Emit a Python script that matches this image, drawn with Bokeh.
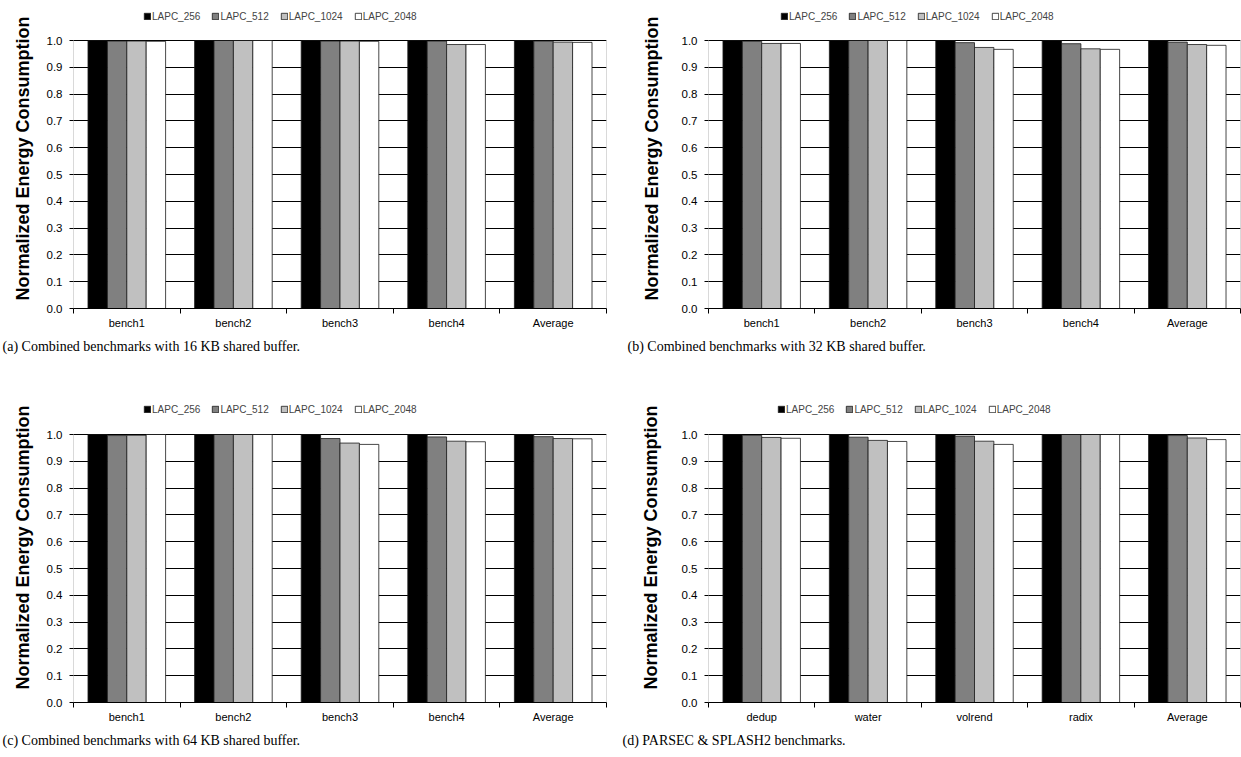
from bokeh.plotting import figure
from bokeh.models import (Range1d, FixedTicker, Legend, LegendItem, Title,
                          BoxAnnotation, ColumnDataSource, NumeralTickFormatter)
from bokeh.transform import dodge
from bokeh.layouts import gridplot
from bokeh.embed import file_html
from bokeh.resources import INLINE

# ---------------- data ----------------
series = ["LAPC_256", "LAPC_512", "LAPC_1024", "LAPC_2048"]
colors = ["#000000", "#808080", "#C0C0C0", "#FFFFFF"]

cats_combined = ["bench1", "bench2", "bench3", "bench4", "Average"]
cats_parsec = ["dedup", "water", "volrend", "radix", "Average"]

y_ticks = [0.0, 0.1, 0.2, 0.3, 0.4, 0.5, 0.6, 0.7, 0.8, 0.9, 1.0]
y_title = "Normalized Energy Consumption"

a_256 = [1.000, 1.000, 1.000, 1.000, 1.000]
a_512 = [0.998, 1.000, 0.998, 0.998, 0.998]
a_1024 = [0.998, 1.000, 0.998, 0.985, 0.994]
a_2048 = [0.997, 1.000, 0.997, 0.985, 0.993]

b_256 = [1.000, 1.000, 1.000, 1.000, 1.000]
b_512 = [0.997, 1.000, 0.992, 0.988, 0.994]
b_1024 = [0.989, 1.000, 0.974, 0.969, 0.985]
b_2048 = [0.989, 1.000, 0.967, 0.967, 0.982]

c_256 = [1.000, 1.000, 1.000, 1.000, 1.000]
c_512 = [0.996, 1.000, 0.985, 0.991, 0.992]
c_1024 = [0.997, 1.000, 0.968, 0.975, 0.985]
c_2048 = [1.000, 1.000, 0.963, 0.973, 0.984]

d_256 = [1.000, 1.000, 1.000, 1.000, 1.000]
d_512 = [0.997, 0.990, 0.994, 1.000, 0.996]
d_1024 = [0.989, 0.978, 0.975, 1.000, 0.987]
d_2048 = [0.986, 0.974, 0.963, 1.000, 0.981]

captions = [
    "(a) Combined benchmarks with 16 KB shared buffer.",
    "(b) Combined benchmarks with 32 KB shared buffer.",
    "(c) Combined benchmarks with 64 KB shared buffer.",
    "(d) PARSEC & SPLASH2 benchmarks.",
]

SANS = "Liberation Sans"
SERIF = "Liberation Serif"

PLOT_H = 268  # pixel height of the 0..1 value area


def make_panel(cats, vals, caption, width, height, left, right, bottom,
               title_standoff, title_offset, legend_dx, legend_cy, cap_x):
    centers = [i + 0.5 for i in range(len(cats))]
    data = dict(x=centers)
    keys = []
    for s, v in zip(series, vals):
        k = "v" + s.split("_")[1]
        data[k] = v
        keys.append(k)
    src = ColumnDataSource(data)

    frame_h = height - bottom            # frame starts at the very top
    y_end = y_ticks[-1] * frame_h / PLOT_H  # extra room above 1.0 for legend

    p = figure(width=width, height=height,
               x_range=Range1d(0, len(cats)), y_range=Range1d(0, y_end),
               output_backend="svg", toolbar_location=None,
               min_border_left=left, min_border_right=right,
               min_border_top=0, min_border_bottom=bottom,
               background_fill_color="white", border_fill_color="white")

    bw = 0.182
    offsets = [-1.5 * bw, -0.5 * bw, 0.5 * bw, 1.5 * bw]
    renderers = []
    for k, off, col in zip(keys, offsets, colors):
        r = p.vbar(x=dodge("x", off), top=k, width=bw, bottom=0, source=src,
                   fill_color=col, line_color="#1a1a1a", line_width=0.8)
        renderers.append(r)

    # plot box from 0 to 1.0 (acts as axis line, top and right border)
    p.add_layout(BoxAnnotation(left=0, right=len(cats), bottom=0, top=y_ticks[-1],
                               fill_alpha=0, line_color="black", line_width=1))

    # y axis
    p.yaxis.ticker = FixedTicker(ticks=y_ticks)
    p.yaxis.formatter = NumeralTickFormatter(format="0.0")
    p.yaxis.axis_line_color = None
    p.yaxis.major_tick_out = 4
    p.yaxis.major_tick_in = 0
    p.yaxis.minor_tick_out = 0
    p.yaxis.minor_tick_in = 0
    p.yaxis.major_label_standoff = 7
    p.yaxis.major_label_text_font = SANS
    p.yaxis.major_label_text_font_size = "11.5px"
    p.yaxis.major_label_text_color = "black"
    p.yaxis.major_tick_line_color = "black"

    # x axis: labels at centers, ticks at boundaries
    p.xaxis.ticker = FixedTicker(ticks=centers,
                                 minor_ticks=list(range(len(cats) + 1)))
    p.xaxis.major_label_overrides = {c: n for c, n in zip(centers, cats)}
    p.xaxis.major_tick_out = 0
    p.xaxis.major_tick_in = 0
    p.xaxis.minor_tick_out = 5
    p.xaxis.minor_tick_in = 0
    p.xaxis.minor_tick_line_color = "black"
    p.xaxis.major_label_standoff = 3
    p.xaxis.major_label_text_font = SANS
    p.xaxis.major_label_text_font_size = "11px"
    p.xaxis.major_label_text_color = "black"
    p.xaxis.axis_line_color = "black"

    p.xgrid.visible = False
    p.ygrid.grid_line_color = "black"
    p.ygrid.grid_line_width = 1
    p.outline_line_color = None

    # y-axis title as a vertical title on the left (starts near frame bottom)
    p.add_layout(Title(text=y_title, align="left", text_font=SANS,
                       text_font_size="18px", text_font_style="bold",
                       text_color="black", standoff=title_standoff,
                       offset=title_offset), "left")

    # legend in the space above 1.0
    legend = Legend(items=[LegendItem(label=s, renderers=[r])
                           for s, r in zip(series, renderers)],
                    orientation="horizontal",
                    location=(legend_dx, frame_h - legend_cy - 7),
                    border_line_color=None, background_fill_alpha=0,
                    label_text_font=SANS, label_text_font_size="10px",
                    glyph_width=8, glyph_height=8, label_standoff=1,
                    spacing=11, padding=0, margin=0, label_height=14)
    p.add_layout(legend, "center")

    # caption below the x axis
    p.add_layout(Title(text=caption, align="left", text_font=SERIF,
                       text_font_size="14px", text_font_style="normal",
                       text_color="black", offset=cap_x - left, standoff=10),
                 "below")
    return p


pa = make_panel(cats_combined, [a_256, a_512, a_1024, a_2048], captions[0],
                620, 378, 72, 14, 70, 21, 8, 70, 16, 1)
pb = make_panel(cats_combined, [b_256, b_512, b_1024, b_2048], captions[1],
                621, 378, 83, 1, 70, 34, 8, 72, 16, 2)
pc = make_panel(cats_combined, [c_256, c_512, c_1024, c_2048], captions[2],
                620, 379, 72, 14, 55, 21, 13, 70, 31, 1)
pd = make_panel(cats_parsec, [d_256, d_512, d_1024, d_2048], captions[3],
                621, 379, 88, 1, 55, 36, 13, 69, 31, 2)

grid = gridplot([[pa, pb], [pc, pd]], toolbar_location=None)

open("out.html", "w").write(file_html(grid, INLINE))
